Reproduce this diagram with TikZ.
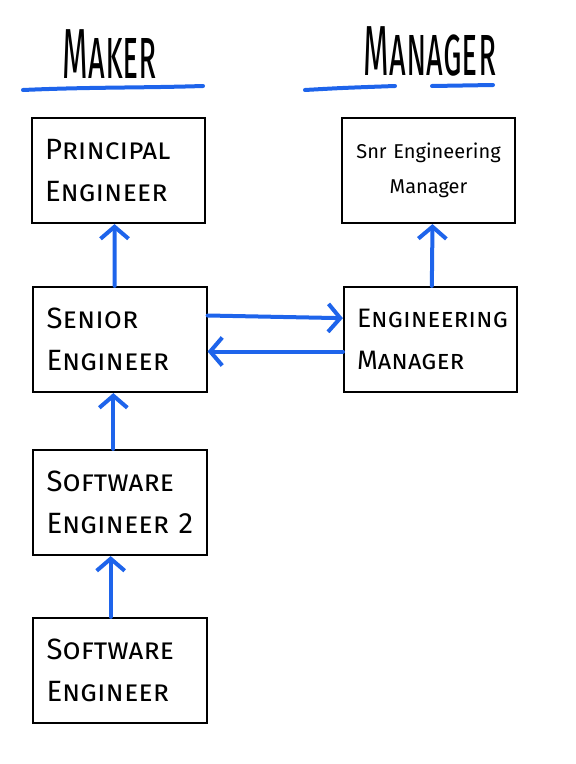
\documentclass[tikz,border=0pt]{standalone}
\usepackage{fontspec}
\usepackage{graphicx}
\setmainfont{Fira Sans}
\usetikzlibrary{arrows.meta,positioning}
\definecolor{penblue}{RGB}{30,100,235}
\newcommand{\tallword}[1]{\scalebox{0.65}[1.4]{#1}}

\begin{document}
\begin{tikzpicture}[x=0.75pt,y=-0.75pt,
    rung/.style={draw,line width=1.4pt,minimum width=130pt,minimum height=79pt,
      text width=110pt,align=left,inner xsep=10pt,
      font=\fontsize{22}{31}\selectfont\scshape},
    heading/.style={font=\fontsize{38}{44}\selectfont\scshape},
    pen/.style={penblue,line width=3pt,line cap=round},
    promo/.style={pen,-{Straight Barb[length=9pt,width=21pt]}}]
      \useasboundingbox (0,0) rectangle (575,764);
      % column headings
      \node [heading] (maker) at (110,54) {\tallword{Maker}};
      \node [heading] (manager) at (430,51) {\tallword{Manager}};
      \draw[pen] (23,90) .. controls (90,87) and (140,88) .. (203,86);
      \draw[pen] (305,90) .. controls (340,88) .. (395,86);
      \draw[pen] (432,86) -- (493,85);
      % maker track
      \node [rung] (principal) at (118.5,170.5) {Principal\\Engineer};
      \node [rung] (senior) at (120,339.5) {Senior\\Engineer};
      \node [rung] (swe2) at (120,502.5) {Software\\Engineer 2};
      \node [rung] (swe) at (120,670.5) {Software\\Engineer};
      % manager track
      \node [rung,align=center,font=\fontsize{15}{26}\selectfont] (snrmgr) at (428.5,170.5) {Snr Engineering\\Manager};
      \node [rung,font=\fontsize{20}{31}\selectfont\scshape] (engmgr) at (430.5,339.5) {Engineering\\Manager};
      % moves
      \draw[promo] ([xshift=-4pt]senior.north) -- ([xshift=-3pt]principal.south);
      \draw[promo] ([xshift=-5pt]swe2.north) -- ([xshift=-5pt]senior.south);
      \draw[promo] ([xshift=-7pt]swe.north) -- ([xshift=-7pt]swe2.south);
      \draw[promo] ([xshift=1pt]engmgr.north) -- ([xshift=3pt]snrmgr.south);
      \draw[promo] ([yshift=18pt]senior.east) -- ([yshift=16pt]engmgr.west);
      \draw[promo] ([yshift=-9pt]engmgr.west) -- ([yshift=-9pt]senior.east);
   \end{tikzpicture}
\end{document}
